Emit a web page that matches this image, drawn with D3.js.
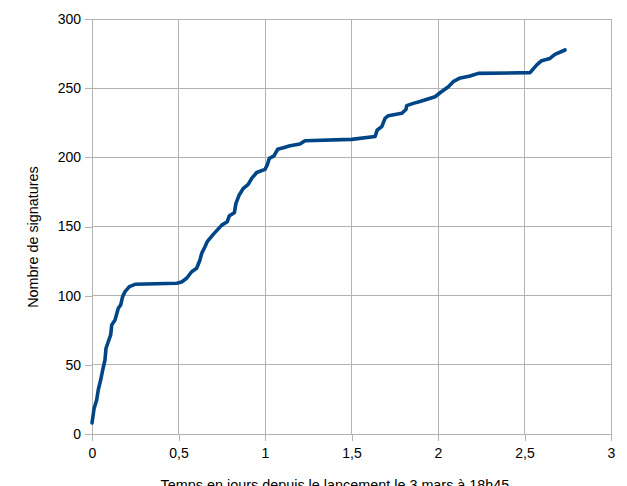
<!DOCTYPE html>
<html>
<head>
<meta charset="utf-8">
<script src="https://cdn.jsdelivr.net/npm/d3@7"></script>
<style>
  body { margin: 0; background: #fff; }
  svg { display: block; font-family: "Liberation Sans", Arial, sans-serif; }
</style>
</head>
<body>
<svg id="chart" width="627" height="486"></svg>
<script>
// days since launch (3 March, 18h45)
var days = [0, 0.012, 0.027, 0.036, 0.05, 0.062, 0.075, 0.081, 0.094, 0.108, 0.114, 0.133,
  0.152, 0.166, 0.177, 0.191, 0.216, 0.249, 0.49, 0.518, 0.547, 0.576, 0.605, 0.624,
  0.634, 0.653, 0.666, 0.701, 0.75, 0.782, 0.794, 0.823, 0.832, 0.851, 0.875, 0.903,
  0.923, 0.952, 1.0, 1.013, 1.025, 1.052, 1.073, 1.106, 1.145, 1.202, 1.231, 1.501,
  1.636, 1.649, 1.675, 1.694, 1.713, 1.79, 1.815, 1.819, 1.857, 1.896, 1.983, 2.012,
  2.06, 2.088, 2.123, 2.185, 2.233, 2.532, 2.571, 2.599, 2.647, 2.676, 2.734];
// number of signatures
var signatures = [8, 18.5, 24.6, 31.8, 39, 46.3, 53.5, 62, 66.7, 71.6, 78.8, 82.4,
  90.9, 93.3, 99.3, 102.9, 106.5, 108.2, 109, 109.9, 112.6, 117.3, 119.8, 125.8,
  130.6, 135.4, 139, 144.3, 151, 153.5, 157.8, 160, 166.7, 172.8, 177.6, 180.5,
  184.8, 189, 191.3, 194.5, 199.3, 201, 205.8, 207, 208.4, 209.6, 212, 213,
  215, 219.8, 222.2, 228.2, 230.1, 231.8, 234.6, 237.4, 239, 240.3, 243.8, 246.7,
  251, 254.7, 257.1, 258.8, 260.7, 261.2, 266.8, 269.9, 271.5, 274.4, 277.6];
var xTicks = [0, 0.5, 1, 1.5, 2, 2.5, 3];
var yTicks = [0, 50, 100, 150, 200, 250, 300];

var svg = d3.select("#chart");
var plotLeft = 92, plotRight = 611, plotTop = 19, plotBottom = 434;

var x = d3.scaleLinear().domain([0, 3]).range([plotLeft, plotRight]);
var y = d3.scaleLinear().domain([0, 300]).range([plotBottom, plotTop]);
var fmt = function (d) { return String(d).replace(".", ","); };

// grid
svg.append("g").selectAll("line").data(xTicks).enter().append("line")
    .attr("x1", function (d) { return x(d); }).attr("x2", function (d) { return x(d); })
    .attr("y1", plotTop).attr("y2", plotBottom)
    .attr("stroke", "#b3b3b3").attr("stroke-width", 1).attr("shape-rendering", "crispEdges");
svg.append("g").selectAll("line").data(yTicks).enter().append("line")
    .attr("x1", plotLeft).attr("x2", plotRight)
    .attr("y1", function (d) { return y(d); }).attr("y2", function (d) { return y(d); })
    .attr("stroke", "#b3b3b3").attr("stroke-width", 1).attr("shape-rendering", "crispEdges");

// axes
var xAxis = svg.append("g").attr("transform", "translate(0," + plotBottom + ")")
    .call(d3.axisBottom(x).tickValues(xTicks).tickFormat(fmt).tickSize(7).tickPadding(7));
var yAxis = svg.append("g").attr("transform", "translate(" + plotLeft + ",0)")
    .call(d3.axisLeft(y).tickValues(yTicks).tickSize(7).tickPadding(4));
[xAxis, yAxis].forEach(function (a) {
    a.select(".domain").remove();
    a.selectAll("line").attr("stroke", "#b3b3b3").attr("shape-rendering", "crispEdges");
    a.selectAll("text").attr("fill", "#000").style("font-size", "14px")
        .style("font-family", "Liberation Sans, Arial, sans-serif");
});

// line
var line = d3.line().x(function (d, i) { return x(days[i]); })
    .y(function (d) { return y(d); });
svg.append("path").datum(signatures)
    .attr("d", line)
    .attr("fill", "none")
    .attr("stroke", "#004586")
    .attr("stroke-width", 3.6)
    .attr("stroke-linejoin", "round")
    .attr("stroke-linecap", "round");

// titles
svg.append("text")
    .attr("x", 335).attr("y", 490)
    .attr("text-anchor", "middle")
    .style("font-size", "14.4px")
    .text("Temps en jours depuis le lancement le 3 mars à 18h45");
svg.append("text")
    .attr("transform", "translate(38,237) rotate(-90)")
    .attr("text-anchor", "middle")
    .style("font-size", "14.4px")
    .text("Nombre de signatures");
</script>
</body>
</html>
